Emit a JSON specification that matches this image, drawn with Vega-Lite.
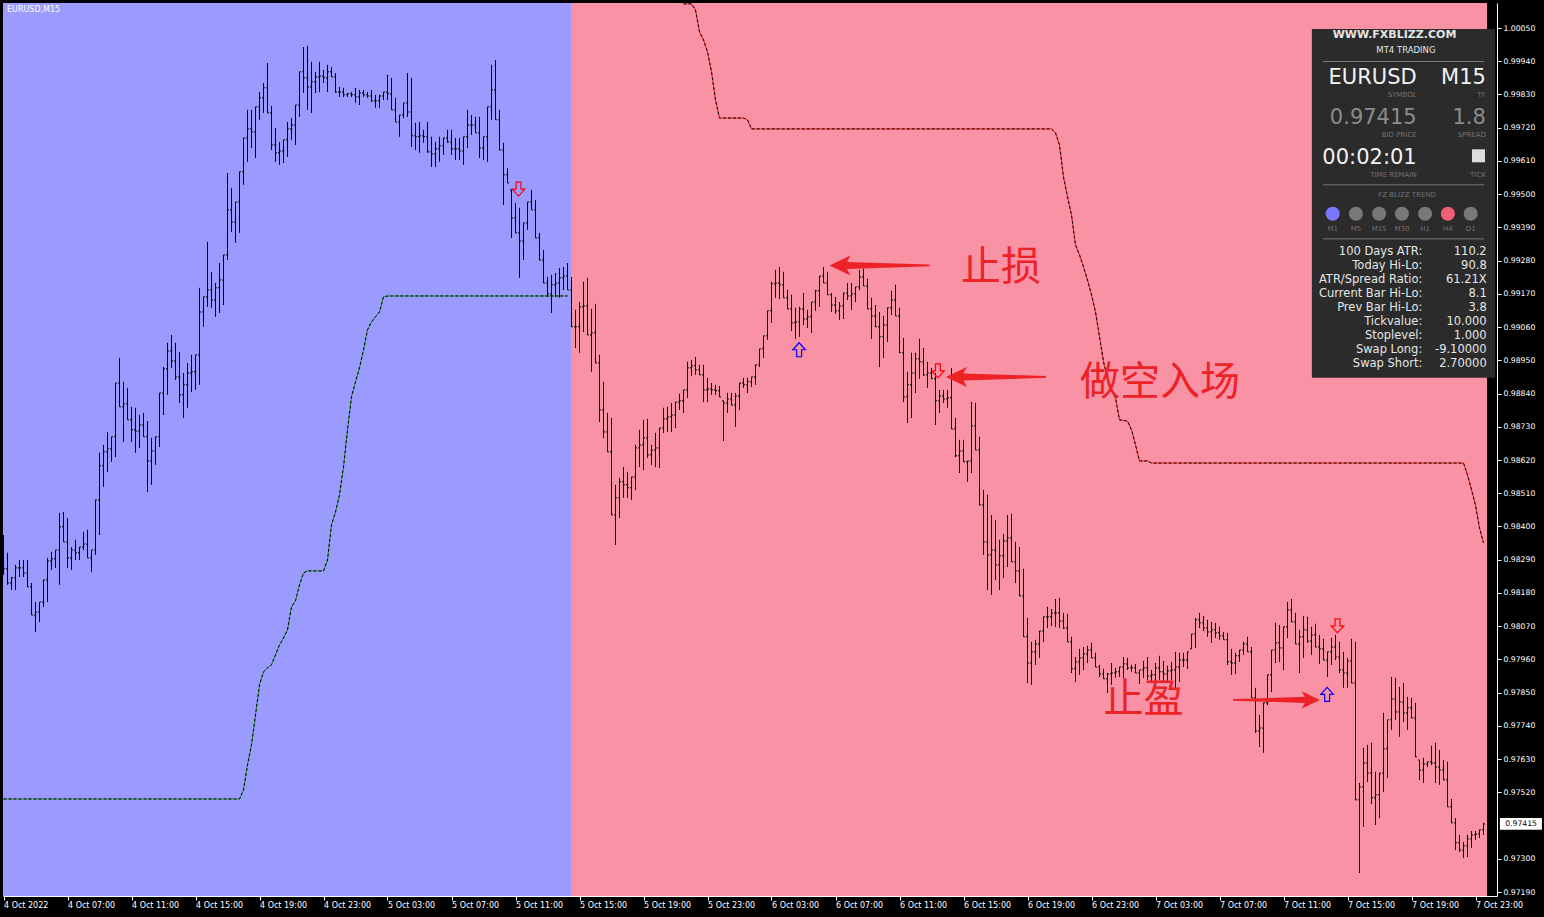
{
"$schema":"https://vega.github.io/schema/vega-lite/v6.json",
"width":1494,"height":893,
"autosize":{"type":"none"},
"padding":{"left":3,"top":3,"right":47,"bottom":21},
"background":"#000000",
"config":{"view":{"stroke":null},"text":{"font":"DejaVu Sans"},"axis":{"grid":false,"domainColor":"#ffffff","tickColor":"#ffffff","labelColor":"#ffffff","labelOverlap":false,"labelFlush":false,"labelBound":false}},
"resolve":{"scale":{"color":"independent","shape":"independent"}},
"datasets":{
"bars":[
{"i":0,"o":0.98306,"h":0.98372,"l":0.98240,"c":0.98260},
{"i":1,"o":0.98260,"h":0.98313,"l":0.98207,"c":0.98213},
{"i":2,"o":0.98213,"h":0.98233,"l":0.98190,"c":0.98230},
{"i":3,"o":0.98230,"h":0.98273,"l":0.98190,"c":0.98263},
{"i":4,"o":0.98263,"h":0.98289,"l":0.98233,"c":0.98263},
{"i":5,"o":0.98263,"h":0.98289,"l":0.98233,"c":0.98246},
{"i":6,"o":0.98246,"h":0.98289,"l":0.98200,"c":0.98200},
{"i":7,"o":0.98200,"h":0.98213,"l":0.98107,"c":0.98107},
{"i":8,"o":0.98107,"h":0.98150,"l":0.98051,"c":0.98117},
{"i":9,"o":0.98117,"h":0.98150,"l":0.98084,"c":0.98150},
{"i":10,"o":0.98150,"h":0.98223,"l":0.98134,"c":0.98223},
{"i":11,"o":0.98223,"h":0.98296,"l":0.98150,"c":0.98286},
{"i":12,"o":0.98286,"h":0.98316,"l":0.98256,"c":0.98293},
{"i":13,"o":0.98293,"h":0.98322,"l":0.98263,"c":0.98322},
{"i":14,"o":0.98322,"h":0.98445,"l":0.98207,"c":0.98399},
{"i":15,"o":0.98399,"h":0.98448,"l":0.98349,"c":0.98349},
{"i":16,"o":0.98349,"h":0.98428,"l":0.98263,"c":0.98296},
{"i":17,"o":0.98296,"h":0.98332,"l":0.98256,"c":0.98322},
{"i":18,"o":0.98322,"h":0.98356,"l":0.98289,"c":0.98313},
{"i":19,"o":0.98313,"h":0.98332,"l":0.98289,"c":0.98332},
{"i":20,"o":0.98332,"h":0.98382,"l":0.98322,"c":0.98342},
{"i":21,"o":0.98342,"h":0.98389,"l":0.98296,"c":0.98296},
{"i":22,"o":0.98296,"h":0.98322,"l":0.98250,"c":0.98322},
{"i":23,"o":0.98322,"h":0.98488,"l":0.98306,"c":0.98488},
{"i":24,"o":0.98488,"h":0.98644,"l":0.98372,"c":0.98601},
{"i":25,"o":0.98601,"h":0.98670,"l":0.98531,"c":0.98647},
{"i":26,"o":0.98647,"h":0.98713,"l":0.98581,"c":0.98657},
{"i":27,"o":0.98657,"h":0.98697,"l":0.98614,"c":0.98697},
{"i":28,"o":0.98697,"h":0.98875,"l":0.98630,"c":0.98875},
{"i":29,"o":0.98875,"h":0.98958,"l":0.98796,"c":0.98796},
{"i":30,"o":0.98796,"h":0.98879,"l":0.98680,"c":0.98806},
{"i":31,"o":0.98806,"h":0.98859,"l":0.98753,"c":0.98753},
{"i":32,"o":0.98753,"h":0.98796,"l":0.98680,"c":0.98720},
{"i":33,"o":0.98720,"h":0.98793,"l":0.98644,"c":0.98716},
{"i":34,"o":0.98716,"h":0.98769,"l":0.98660,"c":0.98736},
{"i":35,"o":0.98736,"h":0.98776,"l":0.98697,"c":0.98697},
{"i":36,"o":0.98697,"h":0.98749,"l":0.98514,"c":0.98617},
{"i":37,"o":0.98617,"h":0.98693,"l":0.98538,"c":0.98650},
{"i":38,"o":0.98650,"h":0.98697,"l":0.98604,"c":0.98697},
{"i":39,"o":0.98697,"h":0.98842,"l":0.98663,"c":0.98842},
{"i":40,"o":0.98842,"h":0.98928,"l":0.98769,"c":0.98922},
{"i":41,"o":0.98922,"h":0.99008,"l":0.98836,"c":0.98981},
{"i":42,"o":0.98981,"h":0.99034,"l":0.98925,"c":0.98948},
{"i":43,"o":0.98948,"h":0.99008,"l":0.98885,"c":0.98895},
{"i":44,"o":0.98895,"h":0.98978,"l":0.98809,"c":0.98836},
{"i":45,"o":0.98836,"h":0.98908,"l":0.98759,"c":0.98869},
{"i":46,"o":0.98869,"h":0.98941,"l":0.98793,"c":0.98908},
{"i":47,"o":0.98908,"h":0.98968,"l":0.98845,"c":0.98912},
{"i":48,"o":0.98912,"h":0.98968,"l":0.98852,"c":0.98968},
{"i":49,"o":0.98968,"h":0.99190,"l":0.98869,"c":0.99110},
{"i":50,"o":0.99110,"h":0.99160,"l":0.99061,"c":0.99160},
{"i":51,"o":0.99160,"h":0.99342,"l":0.99127,"c":0.99183},
{"i":52,"o":0.99183,"h":0.99243,"l":0.99124,"c":0.99150},
{"i":53,"o":0.99150,"h":0.99206,"l":0.99094,"c":0.99190},
{"i":54,"o":0.99190,"h":0.99272,"l":0.99107,"c":0.99216},
{"i":55,"o":0.99216,"h":0.99299,"l":0.99133,"c":0.99299},
{"i":56,"o":0.99299,"h":0.99570,"l":0.99282,"c":0.99448},
{"i":57,"o":0.99448,"h":0.99521,"l":0.99375,"c":0.99408},
{"i":58,"o":0.99408,"h":0.99474,"l":0.99339,"c":0.99474},
{"i":59,"o":0.99474,"h":0.99574,"l":0.99372,"c":0.99574},
{"i":60,"o":0.99574,"h":0.99686,"l":0.99531,"c":0.99686},
{"i":61,"o":0.99686,"h":0.99779,"l":0.99607,"c":0.99716},
{"i":62,"o":0.99716,"h":0.99779,"l":0.99653,"c":0.99706},
{"i":63,"o":0.99706,"h":0.99789,"l":0.99620,"c":0.99789},
{"i":64,"o":0.99789,"h":0.99838,"l":0.99746,"c":0.99819},
{"i":65,"o":0.99819,"h":0.99868,"l":0.99769,"c":0.99852},
{"i":66,"o":0.99852,"h":0.99934,"l":0.99769,"c":0.99769},
{"i":67,"o":0.99769,"h":0.99792,"l":0.99646,"c":0.99663},
{"i":68,"o":0.99663,"h":0.99719,"l":0.99607,"c":0.99637},
{"i":69,"o":0.99637,"h":0.99673,"l":0.99597,"c":0.99643},
{"i":70,"o":0.99643,"h":0.99680,"l":0.99603,"c":0.99680},
{"i":71,"o":0.99680,"h":0.99739,"l":0.99623,"c":0.99716},
{"i":72,"o":0.99716,"h":0.99752,"l":0.99680,"c":0.99729},
{"i":73,"o":0.99729,"h":0.99795,"l":0.99663,"c":0.99795},
{"i":74,"o":0.99795,"h":0.99905,"l":0.99756,"c":0.99905},
{"i":75,"o":0.99905,"h":0.99987,"l":0.99835,"c":0.99885},
{"i":76,"o":0.99885,"h":0.99991,"l":0.99779,"c":0.99855},
{"i":77,"o":0.99855,"h":0.99938,"l":0.99769,"c":0.99872},
{"i":78,"o":0.99872,"h":0.99905,"l":0.99835,"c":0.99888},
{"i":79,"o":0.99888,"h":0.99938,"l":0.99838,"c":0.99891},
{"i":80,"o":0.99891,"h":0.99911,"l":0.99868,"c":0.99885},
{"i":81,"o":0.99885,"h":0.99928,"l":0.99838,"c":0.99905},
{"i":82,"o":0.99905,"h":0.99921,"l":0.99888,"c":0.99888},
{"i":83,"o":0.99888,"h":0.99901,"l":0.99835,"c":0.99838},
{"i":84,"o":0.99838,"h":0.99855,"l":0.99822,"c":0.99838},
{"i":85,"o":0.99838,"h":0.99852,"l":0.99822,"c":0.99829},
{"i":86,"o":0.99829,"h":0.99835,"l":0.99822,"c":0.99832},
{"i":87,"o":0.99832,"h":0.99838,"l":0.99822,"c":0.99829},
{"i":88,"o":0.99829,"h":0.99852,"l":0.99802,"c":0.99822},
{"i":89,"o":0.99822,"h":0.99845,"l":0.99795,"c":0.99835},
{"i":90,"o":0.99835,"h":0.99845,"l":0.99822,"c":0.99829},
{"i":91,"o":0.99829,"h":0.99838,"l":0.99819,"c":0.99825},
{"i":92,"o":0.99825,"h":0.99845,"l":0.99805,"c":0.99809},
{"i":93,"o":0.99809,"h":0.99829,"l":0.99786,"c":0.99809},
{"i":94,"o":0.99809,"h":0.99829,"l":0.99786,"c":0.99825},
{"i":95,"o":0.99825,"h":0.99838,"l":0.99812,"c":0.99838},
{"i":96,"o":0.99838,"h":0.99895,"l":0.99812,"c":0.99832},
{"i":97,"o":0.99832,"h":0.99885,"l":0.99779,"c":0.99779},
{"i":98,"o":0.99779,"h":0.99819,"l":0.99739,"c":0.99739},
{"i":99,"o":0.99739,"h":0.99762,"l":0.99690,"c":0.99762},
{"i":100,"o":0.99762,"h":0.99802,"l":0.99752,"c":0.99802},
{"i":101,"o":0.99802,"h":0.99901,"l":0.99756,"c":0.99772},
{"i":102,"o":0.99772,"h":0.99885,"l":0.99656,"c":0.99693},
{"i":103,"o":0.99693,"h":0.99736,"l":0.99646,"c":0.99690},
{"i":104,"o":0.99690,"h":0.99739,"l":0.99637,"c":0.99693},
{"i":105,"o":0.99693,"h":0.99713,"l":0.99670,"c":0.99690},
{"i":106,"o":0.99690,"h":0.99739,"l":0.99637,"c":0.99640},
{"i":107,"o":0.99640,"h":0.99690,"l":0.99590,"c":0.99633},
{"i":108,"o":0.99633,"h":0.99673,"l":0.99590,"c":0.99650},
{"i":109,"o":0.99650,"h":0.99690,"l":0.99607,"c":0.99660},
{"i":110,"o":0.99660,"h":0.99686,"l":0.99630,"c":0.99686},
{"i":111,"o":0.99686,"h":0.99713,"l":0.99670,"c":0.99673},
{"i":112,"o":0.99673,"h":0.99713,"l":0.99630,"c":0.99650},
{"i":113,"o":0.99650,"h":0.99686,"l":0.99613,"c":0.99650},
{"i":114,"o":0.99650,"h":0.99686,"l":0.99613,"c":0.99643},
{"i":115,"o":0.99643,"h":0.99690,"l":0.99597,"c":0.99690},
{"i":116,"o":0.99690,"h":0.99779,"l":0.99653,"c":0.99729},
{"i":117,"o":0.99729,"h":0.99762,"l":0.99696,"c":0.99729},
{"i":118,"o":0.99729,"h":0.99756,"l":0.99703,"c":0.99703},
{"i":119,"o":0.99703,"h":0.99756,"l":0.99620,"c":0.99653},
{"i":120,"o":0.99653,"h":0.99690,"l":0.99613,"c":0.99690},
{"i":121,"o":0.99690,"h":0.99789,"l":0.99607,"c":0.99789},
{"i":122,"o":0.99789,"h":0.99928,"l":0.99746,"c":0.99845},
{"i":123,"o":0.99845,"h":0.99944,"l":0.99746,"c":0.99746},
{"i":124,"o":0.99746,"h":0.99779,"l":0.99646,"c":0.99646},
{"i":125,"o":0.99646,"h":0.99670,"l":0.99464,"c":0.99564},
{"i":126,"o":0.99564,"h":0.99587,"l":0.99537,"c":0.99537},
{"i":127,"o":0.99514,"h":0.99514,"l":0.99355,"c":0.99421},
{"i":128,"o":0.99421,"h":0.99471,"l":0.99372,"c":0.99372},
{"i":129,"o":0.99372,"h":0.99455,"l":0.99223,"c":0.99345},
{"i":130,"o":0.99345,"h":0.99405,"l":0.99282,"c":0.99405},
{"i":131,"o":0.99405,"h":0.99474,"l":0.99382,"c":0.99474},
{"i":132,"o":0.99474,"h":0.99514,"l":0.99448,"c":0.99448},
{"i":133,"o":0.99448,"h":0.99481,"l":0.99355,"c":0.99355},
{"i":134,"o":0.99355,"h":0.99372,"l":0.99282,"c":0.99282},
{"i":135,"o":0.99282,"h":0.99315,"l":0.99206,"c":0.99206},
{"i":136,"o":0.99206,"h":0.99226,"l":0.99160,"c":0.99170},
{"i":137,"o":0.99170,"h":0.99233,"l":0.99107,"c":0.99200},
{"i":138,"o":0.99200,"h":0.99239,"l":0.99160,"c":0.99206},
{"i":139,"o":0.99206,"h":0.99256,"l":0.99157,"c":0.99223},
{"i":140,"o":0.99223,"h":0.99259,"l":0.99183,"c":0.99229},
{"i":141,"o":0.99229,"h":0.99272,"l":0.99183,"c":0.99183},
{"i":142,"o":0.99183,"h":0.99226,"l":0.99061,"c":0.99061},
{"i":143,"o":0.99061,"h":0.99117,"l":0.98991,"c":0.99061},
{"i":144,"o":0.99061,"h":0.99143,"l":0.98975,"c":0.99127},
{"i":145,"o":0.99127,"h":0.99210,"l":0.99044,"c":0.99130},
{"i":146,"o":0.99130,"h":0.99223,"l":0.99034,"c":0.99034},
{"i":147,"o":0.99034,"h":0.99120,"l":0.98912,"c":0.99041},
{"i":148,"o":0.99041,"h":0.99137,"l":0.98941,"c":0.98941},
{"i":149,"o":0.98941,"h":0.98968,"l":0.98746,"c":0.98786},
{"i":150,"o":0.98786,"h":0.98879,"l":0.98693,"c":0.98713},
{"i":151,"o":0.98713,"h":0.98776,"l":0.98647,"c":0.98647},
{"i":152,"o":0.98647,"h":0.98759,"l":0.98438,"c":0.98438},
{"i":153,"o":0.98438,"h":0.98538,"l":0.98339,"c":0.98495},
{"i":154,"o":0.98495,"h":0.98561,"l":0.98428,"c":0.98548},
{"i":155,"o":0.98548,"h":0.98597,"l":0.98495,"c":0.98538},
{"i":156,"o":0.98538,"h":0.98581,"l":0.98495,"c":0.98528},
{"i":157,"o":0.98528,"h":0.98564,"l":0.98488,"c":0.98564},
{"i":158,"o":0.98564,"h":0.98670,"l":0.98521,"c":0.98660},
{"i":159,"o":0.98660,"h":0.98720,"l":0.98597,"c":0.98670},
{"i":160,"o":0.98670,"h":0.98753,"l":0.98587,"c":0.98693},
{"i":161,"o":0.98693,"h":0.98756,"l":0.98627,"c":0.98637},
{"i":162,"o":0.98637,"h":0.98670,"l":0.98604,"c":0.98653},
{"i":163,"o":0.98653,"h":0.98710,"l":0.98597,"c":0.98660},
{"i":164,"o":0.98660,"h":0.98726,"l":0.98594,"c":0.98726},
{"i":165,"o":0.98726,"h":0.98793,"l":0.98710,"c":0.98756},
{"i":166,"o":0.98756,"h":0.98796,"l":0.98713,"c":0.98763},
{"i":167,"o":0.98763,"h":0.98809,"l":0.98713,"c":0.98769},
{"i":168,"o":0.98769,"h":0.98812,"l":0.98726,"c":0.98812},
{"i":169,"o":0.98812,"h":0.98839,"l":0.98786,"c":0.98816},
{"i":170,"o":0.98816,"h":0.98852,"l":0.98776,"c":0.98852},
{"i":171,"o":0.98852,"h":0.98945,"l":0.98826,"c":0.98925},
{"i":172,"o":0.98925,"h":0.98951,"l":0.98898,"c":0.98932},
{"i":173,"o":0.98932,"h":0.98961,"l":0.98902,"c":0.98918},
{"i":174,"o":0.98918,"h":0.98935,"l":0.98902,"c":0.98902},
{"i":175,"o":0.98902,"h":0.98935,"l":0.98812,"c":0.98852},
{"i":176,"o":0.98852,"h":0.98892,"l":0.98812,"c":0.98855},
{"i":177,"o":0.98855,"h":0.98875,"l":0.98836,"c":0.98852},
{"i":178,"o":0.98852,"h":0.98869,"l":0.98836,"c":0.98849},
{"i":179,"o":0.98849,"h":0.98865,"l":0.98829,"c":0.98829},
{"i":180,"o":0.98816,"h":0.98816,"l":0.98683,"c":0.98809},
{"i":181,"o":0.98809,"h":0.98842,"l":0.98776,"c":0.98822},
{"i":182,"o":0.98822,"h":0.98842,"l":0.98802,"c":0.98802},
{"i":183,"o":0.98802,"h":0.98842,"l":0.98730,"c":0.98832},
{"i":184,"o":0.98832,"h":0.98875,"l":0.98786,"c":0.98875},
{"i":185,"o":0.98875,"h":0.98892,"l":0.98859,"c":0.98869},
{"i":186,"o":0.98869,"h":0.98892,"l":0.98842,"c":0.98879},
{"i":187,"o":0.98879,"h":0.98895,"l":0.98862,"c":0.98895},
{"i":188,"o":0.98895,"h":0.98935,"l":0.98869,"c":0.98935},
{"i":189,"o":0.98935,"h":0.98988,"l":0.98928,"c":0.98988},
{"i":190,"o":0.98988,"h":0.99031,"l":0.98958,"c":0.99031},
{"i":191,"o":0.99031,"h":0.99114,"l":0.99018,"c":0.99114},
{"i":192,"o":0.99114,"h":0.99210,"l":0.99074,"c":0.99203},
{"i":193,"o":0.99203,"h":0.99249,"l":0.99157,"c":0.99206},
{"i":194,"o":0.99206,"h":0.99259,"l":0.99153,"c":0.99200},
{"i":195,"o":0.99200,"h":0.99243,"l":0.99157,"c":0.99157},
{"i":196,"o":0.99157,"h":0.99183,"l":0.99120,"c":0.99120},
{"i":197,"o":0.99120,"h":0.99167,"l":0.99047,"c":0.99074},
{"i":198,"o":0.99074,"h":0.99124,"l":0.99021,"c":0.99077},
{"i":199,"o":0.99077,"h":0.99127,"l":0.99028,"c":0.99120},
{"i":200,"o":0.99120,"h":0.99173,"l":0.99067,"c":0.99087},
{"i":201,"o":0.99087,"h":0.99117,"l":0.99057,"c":0.99094},
{"i":202,"o":0.99094,"h":0.99143,"l":0.99041,"c":0.99143},
{"i":203,"o":0.99143,"h":0.99183,"l":0.99114,"c":0.99180},
{"i":204,"o":0.99180,"h":0.99229,"l":0.99127,"c":0.99229},
{"i":205,"o":0.99229,"h":0.99259,"l":0.99206,"c":0.99206},
{"i":206,"o":0.99206,"h":0.99243,"l":0.99167,"c":0.99167},
{"i":207,"o":0.99167,"h":0.99173,"l":0.99110,"c":0.99133},
{"i":208,"o":0.99133,"h":0.99160,"l":0.99104,"c":0.99114},
{"i":209,"o":0.99114,"h":0.99143,"l":0.99084,"c":0.99130},
{"i":210,"o":0.99130,"h":0.99173,"l":0.99087,"c":0.99173},
{"i":211,"o":0.99173,"h":0.99206,"l":0.99150,"c":0.99163},
{"i":212,"o":0.99163,"h":0.99206,"l":0.99117,"c":0.99170},
{"i":213,"o":0.99170,"h":0.99193,"l":0.99143,"c":0.99193},
{"i":214,"o":0.99193,"h":0.99249,"l":0.99183,"c":0.99226},
{"i":215,"o":0.99226,"h":0.99253,"l":0.99196,"c":0.99196},
{"i":216,"o":0.99196,"h":0.99220,"l":0.99120,"c":0.99120},
{"i":217,"o":0.99120,"h":0.99157,"l":0.99021,"c":0.99097},
{"i":218,"o":0.99097,"h":0.99133,"l":0.99061,"c":0.99061},
{"i":219,"o":0.99061,"h":0.99110,"l":0.98928,"c":0.99028},
{"i":220,"o":0.99028,"h":0.99097,"l":0.98958,"c":0.99067},
{"i":221,"o":0.99067,"h":0.99124,"l":0.99011,"c":0.99124},
{"i":222,"o":0.99124,"h":0.99180,"l":0.99100,"c":0.99150},
{"i":223,"o":0.99150,"h":0.99200,"l":0.99097,"c":0.99097},
{"i":224,"o":0.99097,"h":0.99124,"l":0.98975,"c":0.98975},
{"i":225,"o":0.98975,"h":0.99024,"l":0.98812,"c":0.98829},
{"i":226,"o":0.98829,"h":0.98912,"l":0.98743,"c":0.98869},
{"i":227,"o":0.98869,"h":0.98975,"l":0.98759,"c":0.98908},
{"i":228,"o":0.98908,"h":0.98975,"l":0.98842,"c":0.98955},
{"i":229,"o":0.98955,"h":0.99021,"l":0.98889,"c":0.98945},
{"i":230,"o":0.98945,"h":0.98991,"l":0.98898,"c":0.98902},
{"i":231,"o":0.98902,"h":0.98945,"l":0.98859,"c":0.98908},
{"i":232,"o":0.98908,"h":0.98925,"l":0.98889,"c":0.98889},
{"i":233,"o":0.98889,"h":0.98908,"l":0.98736,"c":0.98816},
{"i":234,"o":0.98816,"h":0.98852,"l":0.98776,"c":0.98832},
{"i":235,"o":0.98832,"h":0.98852,"l":0.98809,"c":0.98822},
{"i":236,"o":0.98822,"h":0.98852,"l":0.98793,"c":0.98826},
{"i":237,"o":0.98826,"h":0.98925,"l":0.98723,"c":0.98723},
{"i":238,"o":0.98723,"h":0.98759,"l":0.98630,"c":0.98634},
{"i":239,"o":0.98634,"h":0.98687,"l":0.98577,"c":0.98650},
{"i":240,"o":0.98650,"h":0.98687,"l":0.98614,"c":0.98614},
{"i":241,"o":0.98614,"h":0.98617,"l":0.98548,"c":0.98617},
{"i":242,"o":0.98617,"h":0.98812,"l":0.98577,"c":0.98733},
{"i":243,"o":0.98733,"h":0.98809,"l":0.98653,"c":0.98653},
{"i":244,"o":0.98653,"h":0.98697,"l":0.98471,"c":0.98471},
{"i":245,"o":0.98471,"h":0.98521,"l":0.98306,"c":0.98349},
{"i":246,"o":0.98349,"h":0.98505,"l":0.98190,"c":0.98306},
{"i":247,"o":0.98306,"h":0.98438,"l":0.98174,"c":0.98322},
{"i":248,"o":0.98322,"h":0.98422,"l":0.98223,"c":0.98273},
{"i":249,"o":0.98273,"h":0.98356,"l":0.98190,"c":0.98303},
{"i":250,"o":0.98303,"h":0.98375,"l":0.98230,"c":0.98352},
{"i":251,"o":0.98352,"h":0.98438,"l":0.98266,"c":0.98362},
{"i":252,"o":0.98362,"h":0.98442,"l":0.98283,"c":0.98283},
{"i":253,"o":0.98283,"h":0.98349,"l":0.98213,"c":0.98253},
{"i":254,"o":0.98253,"h":0.98332,"l":0.98170,"c":0.98170},
{"i":255,"o":0.98170,"h":0.98260,"l":0.98035,"c":0.98035},
{"i":256,"o":0.98035,"h":0.98097,"l":0.97882,"c":0.97948},
{"i":257,"o":0.97948,"h":0.98018,"l":0.97876,"c":0.97985},
{"i":258,"o":0.97985,"h":0.98025,"l":0.97942,"c":0.98011},
{"i":259,"o":0.98011,"h":0.98054,"l":0.97965,"c":0.98054},
{"i":260,"o":0.98054,"h":0.98101,"l":0.98018,"c":0.98101},
{"i":261,"o":0.98101,"h":0.98134,"l":0.98064,"c":0.98101},
{"i":262,"o":0.98101,"h":0.98127,"l":0.98071,"c":0.98114},
{"i":263,"o":0.98114,"h":0.98160,"l":0.98068,"c":0.98114},
{"i":264,"o":0.98114,"h":0.98164,"l":0.98064,"c":0.98087},
{"i":265,"o":0.98087,"h":0.98114,"l":0.98061,"c":0.98064},
{"i":266,"o":0.98064,"h":0.98111,"l":0.98018,"c":0.98018},
{"i":267,"o":0.98018,"h":0.98035,"l":0.97915,"c":0.97929},
{"i":268,"o":0.97929,"h":0.97968,"l":0.97886,"c":0.97952},
{"i":269,"o":0.97952,"h":0.97995,"l":0.97909,"c":0.97965},
{"i":270,"o":0.97965,"h":0.98001,"l":0.97925,"c":0.97978},
{"i":271,"o":0.97978,"h":0.98005,"l":0.97948,"c":0.97991},
{"i":272,"o":0.97991,"h":0.98015,"l":0.97965,"c":0.97965},
{"i":273,"o":0.97965,"h":0.97982,"l":0.97935,"c":0.97935},
{"i":274,"o":0.97935,"h":0.97942,"l":0.97902,"c":0.97912},
{"i":275,"o":0.97912,"h":0.97929,"l":0.97896,"c":0.97896},
{"i":276,"o":0.97896,"h":0.97915,"l":0.97849,"c":0.97912},
{"i":277,"o":0.97912,"h":0.97948,"l":0.97876,"c":0.97915},
{"i":278,"o":0.97915,"h":0.97932,"l":0.97899,"c":0.97919},
{"i":279,"o":0.97919,"h":0.97935,"l":0.97902,"c":0.97935},
{"i":280,"o":0.97935,"h":0.97968,"l":0.97899,"c":0.97945},
{"i":281,"o":0.97945,"h":0.97965,"l":0.97925,"c":0.97932},
{"i":282,"o":0.97932,"h":0.97942,"l":0.97919,"c":0.97932},
{"i":283,"o":0.97932,"h":0.97945,"l":0.97915,"c":0.97915},
{"i":284,"o":0.97915,"h":0.97925,"l":0.97879,"c":0.97925},
{"i":285,"o":0.97925,"h":0.97955,"l":0.97899,"c":0.97932},
{"i":286,"o":0.97932,"h":0.97968,"l":0.97892,"c":0.97905},
{"i":287,"o":0.97905,"h":0.97925,"l":0.97882,"c":0.97909},
{"i":288,"o":0.97909,"h":0.97948,"l":0.97866,"c":0.97932},
{"i":289,"o":0.97932,"h":0.97972,"l":0.97892,"c":0.97919},
{"i":290,"o":0.97919,"h":0.97955,"l":0.97882,"c":0.97912},
{"i":291,"o":0.97912,"h":0.97939,"l":0.97886,"c":0.97922},
{"i":292,"o":0.97922,"h":0.97952,"l":0.97892,"c":0.97925},
{"i":293,"o":0.97925,"h":0.97985,"l":0.97866,"c":0.97935},
{"i":294,"o":0.97935,"h":0.97982,"l":0.97886,"c":0.97958},
{"i":295,"o":0.97958,"h":0.97982,"l":0.97935,"c":0.97958},
{"i":296,"o":0.97958,"h":0.97985,"l":0.97929,"c":0.97985},
{"i":297,"o":0.97995,"h":0.98044,"l":0.97995,"c":0.98044},
{"i":298,"o":0.98044,"h":0.98097,"l":0.97998,"c":0.98091},
{"i":299,"o":0.98091,"h":0.98114,"l":0.98064,"c":0.98081},
{"i":300,"o":0.98081,"h":0.98104,"l":0.98054,"c":0.98064},
{"i":301,"o":0.98064,"h":0.98091,"l":0.98035,"c":0.98051},
{"i":302,"o":0.98051,"h":0.98084,"l":0.98015,"c":0.98058},
{"i":303,"o":0.98058,"h":0.98081,"l":0.98031,"c":0.98048},
{"i":304,"o":0.98048,"h":0.98068,"l":0.98025,"c":0.98038},
{"i":305,"o":0.98038,"h":0.98051,"l":0.98025,"c":0.98025},
{"i":306,"o":0.98025,"h":0.98048,"l":0.97942,"c":0.97952},
{"i":307,"o":0.97952,"h":0.97995,"l":0.97909,"c":0.97948},
{"i":308,"o":0.97948,"h":0.97982,"l":0.97912,"c":0.97972},
{"i":309,"o":0.97972,"h":0.97991,"l":0.97952,"c":0.97991},
{"i":310,"o":0.97991,"h":0.98018,"l":0.97975,"c":0.98011},
{"i":311,"o":0.98011,"h":0.98035,"l":0.97985,"c":0.97985},
{"i":312,"o":0.97985,"h":0.98001,"l":0.97833,"c":0.97833},
{"i":313,"o":0.97833,"h":0.97866,"l":0.97717,"c":0.97723},
{"i":314,"o":0.97723,"h":0.97776,"l":0.97670,"c":0.97733},
{"i":315,"o":0.97733,"h":0.97816,"l":0.97651,"c":0.97816},
{"i":316,"o":0.97816,"h":0.97909,"l":0.97809,"c":0.97909},
{"i":317,"o":0.97909,"h":0.97991,"l":0.97852,"c":0.97991},
{"i":318,"o":0.97991,"h":0.98081,"l":0.97948,"c":0.98015},
{"i":319,"o":0.98015,"h":0.98074,"l":0.97952,"c":0.97998},
{"i":320,"o":0.97998,"h":0.98068,"l":0.97925,"c":0.98068},
{"i":321,"o":0.98068,"h":0.98150,"l":0.98031,"c":0.98124},
{"i":322,"o":0.98124,"h":0.98160,"l":0.98084,"c":0.98084},
{"i":323,"o":0.98084,"h":0.98114,"l":0.98011,"c":0.98011},
{"i":324,"o":0.98011,"h":0.98058,"l":0.97915,"c":0.98035},
{"i":325,"o":0.98035,"h":0.98104,"l":0.97965,"c":0.98058},
{"i":326,"o":0.98058,"h":0.98101,"l":0.98015,"c":0.98021},
{"i":327,"o":0.98021,"h":0.98068,"l":0.97975,"c":0.98041},
{"i":328,"o":0.98041,"h":0.98078,"l":0.98001,"c":0.98001},
{"i":329,"o":0.98001,"h":0.98041,"l":0.97945,"c":0.97995},
{"i":330,"o":0.97995,"h":0.98028,"l":0.97958,"c":0.97958},
{"i":331,"o":0.97958,"h":0.97985,"l":0.97902,"c":0.97985},
{"i":332,"o":0.97985,"h":0.98031,"l":0.97942,"c":0.98001},
{"i":333,"o":0.98001,"h":0.98041,"l":0.97958,"c":0.97968},
{"i":334,"o":0.97968,"h":0.98018,"l":0.97915,"c":0.97925},
{"i":335,"o":0.97925,"h":0.97985,"l":0.97866,"c":0.97915},
{"i":336,"o":0.97915,"h":0.97965,"l":0.97866,"c":0.97955},
{"i":337,"o":0.97955,"h":0.98028,"l":0.97882,"c":0.97882},
{"i":338,"o":0.97882,"h":0.98018,"l":0.97495,"c":0.97495},
{"i":339,"o":0.97495,"h":0.97551,"l":0.97253,"c":0.97538},
{"i":340,"o":0.97538,"h":0.97667,"l":0.97406,"c":0.97617},
{"i":341,"o":0.97617,"h":0.97677,"l":0.97555,"c":0.97584},
{"i":342,"o":0.97584,"h":0.97684,"l":0.97482,"c":0.97502},
{"i":343,"o":0.97502,"h":0.97588,"l":0.97412,"c":0.97512},
{"i":344,"o":0.97512,"h":0.97584,"l":0.97435,"c":0.97584},
{"i":345,"o":0.97584,"h":0.97783,"l":0.97521,"c":0.97664},
{"i":346,"o":0.97664,"h":0.97760,"l":0.97568,"c":0.97760},
{"i":347,"o":0.97760,"h":0.97902,"l":0.97727,"c":0.97829},
{"i":348,"o":0.97829,"h":0.97899,"l":0.97760,"c":0.97786},
{"i":349,"o":0.97786,"h":0.97869,"l":0.97704,"c":0.97819},
{"i":350,"o":0.97819,"h":0.97882,"l":0.97753,"c":0.97783},
{"i":351,"o":0.97783,"h":0.97836,"l":0.97727,"c":0.97800},
{"i":352,"o":0.97800,"h":0.97833,"l":0.97766,"c":0.97766},
{"i":353,"o":0.97766,"h":0.97816,"l":0.97637,"c":0.97637},
{"i":354,"o":0.97627,"h":0.97627,"l":0.97561,"c":0.97594},
{"i":355,"o":0.97594,"h":0.97634,"l":0.97551,"c":0.97614},
{"i":356,"o":0.97614,"h":0.97621,"l":0.97604,"c":0.97621},
{"i":357,"o":0.97621,"h":0.97674,"l":0.97611,"c":0.97617},
{"i":358,"o":0.97617,"h":0.97684,"l":0.97551,"c":0.97604},
{"i":359,"o":0.97604,"h":0.97660,"l":0.97545,"c":0.97594},
{"i":360,"o":0.97594,"h":0.97627,"l":0.97561,"c":0.97561},
{"i":361,"o":0.97561,"h":0.97621,"l":0.97472,"c":0.97472},
{"i":362,"o":0.97472,"h":0.97498,"l":0.97419,"c":0.97419},
{"i":363,"o":0.97419,"h":0.97435,"l":0.97329,"c":0.97353},
{"i":364,"o":0.97353,"h":0.97379,"l":0.97323,"c":0.97329},
{"i":365,"o":0.97329,"h":0.97356,"l":0.97303,"c":0.97343},
{"i":366,"o":0.97343,"h":0.97379,"l":0.97306,"c":0.97366},
{"i":367,"o":0.97366,"h":0.97392,"l":0.97336,"c":0.97379},
{"i":368,"o":0.97379,"h":0.97392,"l":0.97363,"c":0.97382},
{"i":369,"o":0.97382,"h":0.97396,"l":0.97369,"c":0.97396},
{"i":370,"o":0.97396,"h":0.97419,"l":0.97379,"c":0.97415}
],
"stops":[
{"i":0,"p":0.97498,"s":"b"},{"i":59,"p":0.97498,"s":"b"},{"i":60,"p":0.97528,"s":"b"},{"i":61,"p":0.97611,"s":"b"},{"i":62,"p":0.97677,"s":"b"},{"i":63,"p":0.97776,"s":"b"},{"i":64,"p":0.97876,"s":"b"},{"i":65,"p":0.97919,"s":"b"},{"i":66,"p":0.97932,"s":"b"},{"i":67,"p":0.97942,"s":"b"},{"i":68,"p":0.97975,"s":"b"},{"i":69,"p":0.98008,"s":"b"},{"i":70,"p":0.98031,"s":"b"},{"i":71,"p":0.98058,"s":"b"},{"i":72,"p":0.98134,"s":"b"},{"i":73,"p":0.98154,"s":"b"},{"i":74,"p":0.98207,"s":"b"},{"i":75,"p":0.98246,"s":"b"},{"i":76,"p":0.98253,"s":"b"},{"i":80,"p":0.98253,"s":"b"},{"i":81,"p":0.98289,"s":"b"},{"i":82,"p":0.98405,"s":"b"},{"i":83,"p":0.98448,"s":"b"},{"i":84,"p":0.98505,"s":"b"},{"i":85,"p":0.98597,"s":"b"},{"i":86,"p":0.98720,"s":"b"},{"i":87,"p":0.98829,"s":"b"},{"i":88,"p":0.98879,"s":"b"},{"i":89,"p":0.98925,"s":"b"},{"i":90,"p":0.98984,"s":"b"},{"i":91,"p":0.99051,"s":"b"},{"i":92,"p":0.99077,"s":"b"},{"i":93,"p":0.99094,"s":"b"},{"i":94,"p":0.99110,"s":"b"},{"i":95,"p":0.99160,"s":"b"},{"i":96,"p":0.99163,"s":"b"},{"i":141,"p":0.99163,"s":"b"},
{"i":170,"p":1.00130,"s":"s"},{"i":172,"p":1.00130,"s":"s"},{"i":173,"p":1.00110,"s":"s"},{"i":174,"p":1.00037,"s":"s"},{"i":175,"p":1.00011,"s":"s"},{"i":176,"p":0.99971,"s":"s"},{"i":177,"p":0.99905,"s":"s"},{"i":178,"p":0.99812,"s":"s"},{"i":179,"p":0.99752,"s":"s"},{"i":185,"p":0.99752,"s":"s"},{"i":186,"p":0.99746,"s":"s"},{"i":187,"p":0.99716,"s":"s"},{"i":262,"p":0.99716,"s":"s"},{"i":263,"p":0.99703,"s":"s"},{"i":264,"p":0.99663,"s":"s"},{"i":265,"p":0.99557,"s":"s"},{"i":266,"p":0.99491,"s":"s"},{"i":267,"p":0.99431,"s":"s"},{"i":268,"p":0.99332,"s":"s"},{"i":269,"p":0.99299,"s":"s"},{"i":270,"p":0.99259,"s":"s"},{"i":271,"p":0.99216,"s":"s"},{"i":272,"p":0.99167,"s":"s"},{"i":273,"p":0.99110,"s":"s"},{"i":274,"p":0.99028,"s":"s"},{"i":275,"p":0.98945,"s":"s"},{"i":276,"p":0.98892,"s":"s"},{"i":277,"p":0.98852,"s":"s"},{"i":278,"p":0.98826,"s":"s"},{"i":279,"p":0.98753,"s":"s"},{"i":281,"p":0.98749,"s":"s"},{"i":282,"p":0.98720,"s":"s"},{"i":283,"p":0.98670,"s":"s"},{"i":284,"p":0.98617,"s":"s"},{"i":286,"p":0.98617,"s":"s"},{"i":287,"p":0.98610,"s":"s"},{"i":365,"p":0.98610,"s":"s"},{"i":366,"p":0.98571,"s":"s"},{"i":367,"p":0.98521,"s":"s"},{"i":368,"p":0.98471,"s":"s"},{"i":369,"p":0.98395,"s":"s"},{"i":370,"p":0.98346,"s":"s"}
]
},
"layer":[
{"data":{"values":[{"a":-0.125,"b":141.875,"z":"buy"},{"a":141.875,"b":370.875,"z":"sell"}]},
 "mark":{"type":"rect"},
 "encoding":{
  "x":{"field":"a","type":"quantitative","scale":{"domain":[-0.125,373.375],"nice":false,"zero":false}},
  "x2":{"field":"b"},
  "color":{"field":"z","type":"nominal","scale":{"domain":["buy","sell"],"range":["#9b9bff","#f892a4"]},"legend":null}}},
{"data":{"name":"stops"},
 "mark":{"type":"line","strokeWidth":1,"opacity":1},
 "encoding":{
  "x":{"field":"i","type":"quantitative"},
  "y":{"field":"p","type":"quantitative"},
  "color":{"field":"s","type":"nominal","scale":{"domain":["b","s"],"range":["#2fa03c","#ff2a2a"]},"legend":null}}},
{"data":{"name":"stops"},
 "mark":{"type":"line","strokeWidth":1,"strokeDash":[3,2],"color":"#000000"},
 "encoding":{
  "x":{"field":"i","type":"quantitative"},
  "y":{"field":"p","type":"quantitative"},
  "detail":{"field":"s","type":"nominal"}}},
{"data":{"name":"bars"},
 "mark":{"type":"rule","color":"#000000","strokeWidth":1},
 "encoding":{
  "x":{"field":"i","type":"quantitative","scale":{"domain":[-0.125,373.375],"nice":false,"zero":false},
   "axis":{"orient":"bottom","title":null,"grid":false,"tickCount":100,"values":[0,16,32,48,64,80,96,112,128,144,160,176,192,208,224,240,256,272,288,304,320,336,352,368],
    "labelExpr":"['4 Oct 2022','4 Oct 07:00','4 Oct 11:00','4 Oct 15:00','4 Oct 19:00','4 Oct 23:00','5 Oct 03:00','5 Oct 07:00','5 Oct 11:00','5 Oct 15:00','5 Oct 19:00','5 Oct 23:00','6 Oct 03:00','6 Oct 07:00','6 Oct 11:00','6 Oct 15:00','6 Oct 19:00','6 Oct 23:00','7 Oct 03:00','7 Oct 07:00','7 Oct 11:00','7 Oct 15:00','7 Oct 19:00','7 Oct 23:00'][round(datum.value/16)]",
    "labelAlign":"left","labelBaseline":"top","labelColor":"#ffffff","labelFont":"DejaVu Sans","labelFontSize":8,"tickColor":"#ffffff","tickSize":4,"domainColor":"#ffffff","domainWidth":1,"labelPadding":1,"labelFlush":false,"labelOverlap":false,"labelBound":false}},
  "y":{"field":"h","type":"quantitative","scale":{"domain":[0.9717692,1.0013275],"nice":false,"zero":false},
   "axis":{"orient":"right","title":null,"grid":false,"tickCount":100,"values":[0.9719,0.973,0.9752,0.9763,0.9774,0.9785,0.9796,0.9807,0.9818,0.9829,0.984,0.9851,0.9862,0.9873,0.9884,0.9895,0.9906,0.9917,0.9928,0.9939,0.995,0.9961,0.9972,0.9983,0.9994,1.0005],
    "format":".5f","labelColor":"#ffffff","labelFont":"DejaVu Sans","labelFontSize":7.7,"tickColor":"#ffffff","tickSize":4,"domainColor":"#ffffff","domainWidth":1,"labelPadding":2,"labelFlush":false,"labelOverlap":false,"labelBound":false}},
  "y2":{"field":"l"}}},
{"data":{"name":"bars"},
 "mark":{"type":"rule","color":"#000000","strokeWidth":1,"xOffset":-1.5,"x2Offset":0},
 "encoding":{"x":{"field":"i","type":"quantitative"},"x2":{"field":"i"},"y":{"field":"o","type":"quantitative"}}},
{"data":{"name":"bars"},
 "mark":{"type":"rule","color":"#000000","strokeWidth":1,"xOffset":0,"x2Offset":1.5},
 "encoding":{"x":{"field":"i","type":"quantitative"},"x2":{"field":"i"},"y":{"field":"c","type":"quantitative"}}},
{"data":{"values":[{"i":128.75,"p":0.99517,"d":"down"},{"i":233.6,"p":0.98915,"d":"down"},{"i":333.5,"p":0.98071,"d":"down"},{"i":198.9,"p":0.98985,"d":"up"},{"i":330.9,"p":0.97844,"d":"up"}]},
 "mark":{"type":"point","filled":false,"size":196,"strokeWidth":1.2,"opacity":1},
 "encoding":{
  "x":{"field":"i","type":"quantitative"},
  "y":{"field":"p","type":"quantitative"},
  "shape":{"field":"d","type":"nominal","scale":{"domain":["down","up"],"range":["M-0.35,-1L0.35,-1L0.35,0L0.9,0L0,1L-0.9,0L-0.35,0Z","M0,-1L0.9,0L0.35,0L0.35,1L-0.35,1L-0.35,0L-0.9,0Z"]},"legend":null},
  "color":{"field":"d","type":"nominal","scale":{"domain":["down","up"],"range":["#ff0000","#0000ff"]},"legend":null}}},
{"data":{"values":[{"i":219,"p":0.99264},{"i":248.1,"p":0.98895}]},
 "mark":{"type":"point","filled":true,"size":10000,"opacity":1,"color":"#ec2227","strokeWidth":0,"shape":"M-1,0L-0.58,-0.2L-0.65,-0.07L1,-0.018L1,0.018L-0.65,0.07L-0.58,0.2Z"},
 "encoding":{"x":{"field":"i","type":"quantitative"},"y":{"field":"p","type":"quantitative"}}},
{"data":{"values":[{"i":318.25,"p":0.97826}]},
 "mark":{"type":"point","filled":true,"size":7569,"opacity":1,"angle":180,"color":"#ec2227","strokeWidth":0,"shape":"M-1,0L-0.58,-0.2L-0.65,-0.07L1,-0.018L1,0.018L-0.65,0.07L-0.58,0.2Z"},
 "encoding":{"x":{"field":"i","type":"quantitative"},"y":{"field":"p","type":"quantitative"}}},
{"data":{"values":[{"i":249.4,"p":0.99256,"t":"止损"},{"i":289.1,"p":0.98875,"t":"做空入场"},{"i":285,"p":0.97826,"t":"止盈"}]},
 "mark":{"type":"text","font":"Noto Sans CJK SC","fontSize":40,"color":"#ec2227","align":"center","baseline":"middle"},
 "encoding":{"x":{"field":"i","type":"quantitative"},"y":{"field":"p","type":"quantitative"},"text":{"field":"t"}}},
{"data":{"values":[{"a":327.1,"b":372.9,"p1":1.00047,"p2":0.98892}]},
 "mark":{"type":"rect","color":"#2b2b2b"},
 "encoding":{"x":{"field":"a","type":"quantitative"},"x2":{"field":"b"},"y":{"field":"p1","type":"quantitative"},"y2":{"field":"p2"}}},
{"data":{"values":[{"a":329.9,"b":370.1,"p":0.99939},{"a":329.9,"b":370.1,"p":0.99531},{"a":329.9,"b":370.1,"p":0.99352}]},
 "mark":{"type":"rule","color":"#7a7a7a","strokeWidth":1},
 "encoding":{"x":{"field":"a","type":"quantitative"},"x2":{"field":"b"},"y":{"field":"p","type":"quantitative"}}},
{"data":{"values":[{"i":347.75,"p":1.00027,"t":"WWW.FXBLIZZ.COM"}]},
 "mark":{"type":"text","font":"DejaVu Sans","fontWeight":"bold","fontSize":11,"color":"#e4e4e4","align":"center","baseline":"middle"},
 "encoding":{"x":{"field":"i","type":"quantitative"},"y":{"field":"p","type":"quantitative"},"text":{"field":"t"}}},
{"data":{"values":[{"i":350.6,"p":0.99976,"t":"MT4 TRADING"}]},
 "mark":{"type":"text","font":"DejaVu Sans","fontSize":8.5,"color":"#e4e4e4","align":"center","baseline":"middle"},
 "encoding":{"x":{"field":"i","type":"quantitative"},"y":{"field":"p","type":"quantitative"},"text":{"field":"t"}}},
{"data":{"values":[{"i":353.3,"p":0.99885,"t":"EURUSD"},{"i":370.6,"p":0.99885,"t":"M15"},{"i":353.3,"p":0.99619,"t":"00:02:01"}]},
 "mark":{"type":"text","font":"DejaVu Sans","fontSize":21,"color":"#f2f2f2","align":"right","baseline":"middle"},
 "encoding":{"x":{"field":"i","type":"quantitative"},"y":{"field":"p","type":"quantitative"},"text":{"field":"t"}}},
{"data":{"values":[{"i":353.3,"p":0.99753,"t":"0.97415"},{"i":370.6,"p":0.99753,"t":"1.8"}]},
 "mark":{"type":"text","font":"DejaVu Sans","fontSize":21,"color":"#8c8c8c","align":"right","baseline":"middle"},
 "encoding":{"x":{"field":"i","type":"quantitative"},"y":{"field":"p","type":"quantitative"},"text":{"field":"t"}}},
{"data":{"values":[{"i":353.3,"p":0.99829,"t":"SYMBOL"},{"i":370.6,"p":0.99829,"t":"TF"},{"i":353.3,"p":0.99696,"t":"BID PRICE"},{"i":370.6,"p":0.99696,"t":"SPREAD"},{"i":353.3,"p":0.99564,"t":"TIME REMAIN"},{"i":370.6,"p":0.99564,"t":"TICK"}]},
 "mark":{"type":"text","font":"DejaVu Sans","fontSize":7,"color":"#727272","align":"right","baseline":"middle"},
 "encoding":{"x":{"field":"i","type":"quantitative"},"y":{"field":"p","type":"quantitative"},"text":{"field":"t"}}},
{"data":{"values":[{"i":350.9,"p":0.99498,"t":"FZ BLIZZ TREND"}]},
 "mark":{"type":"text","font":"DejaVu Sans","fontSize":7,"color":"#727272","align":"center","baseline":"middle"},
 "encoding":{"x":{"field":"i","type":"quantitative"},"y":{"field":"p","type":"quantitative"},"text":{"field":"t"}}},
{"data":{"values":[{"i":368.75,"p":0.99627}]},
 "mark":{"type":"point","shape":"square","filled":true,"size":169,"opacity":1,"color":"#dcdcdc"},
 "encoding":{"x":{"field":"i","type":"quantitative"},"y":{"field":"p","type":"quantitative"}}},
{"data":{"values":[{"i":332.3,"p":0.99435,"tf":"M1"},{"i":338.1,"p":0.99435,"tf":"M5"},{"i":343.9,"p":0.99435,"tf":"M15"},{"i":349.6,"p":0.99435,"tf":"M30"},{"i":355.4,"p":0.99435,"tf":"H1"},{"i":361.1,"p":0.99435,"tf":"H4"},{"i":366.8,"p":0.99435,"tf":"D1"}]},
 "mark":{"type":"point","shape":"circle","filled":true,"size":200,"opacity":1},
 "encoding":{"x":{"field":"i","type":"quantitative"},"y":{"field":"p","type":"quantitative"},
  "color":{"field":"tf","type":"nominal","scale":{"domain":["M1","M5","M15","M30","H1","H4","D1"],"range":["#7878ff","#787878","#787878","#787878","#787878","#f05e78","#787878"]},"legend":null}}},
{"data":{"values":[{"i":332.3,"p":0.99385,"tf":"M1"},{"i":338.1,"p":0.99385,"tf":"M5"},{"i":343.9,"p":0.99385,"tf":"M15"},{"i":349.6,"p":0.99385,"tf":"M30"},{"i":355.4,"p":0.99385,"tf":"H1"},{"i":361.1,"p":0.99385,"tf":"H4"},{"i":366.8,"p":0.99385,"tf":"D1"}]},
 "mark":{"type":"text","font":"DejaVu Sans","fontSize":7,"color":"#727272","align":"center","baseline":"middle"},
 "encoding":{"x":{"field":"i","type":"quantitative"},"y":{"field":"p","type":"quantitative"},"text":{"field":"tf"}}},
{"data":{"values":[
  {"i":354.7,"p":0.99309,"t":"100 Days ATR:"},{"i":354.7,"p":0.99263,"t":"Today Hi-Lo:"},{"i":354.7,"p":0.99216,"t":"ATR/Spread Ratio:"},{"i":354.7,"p":0.99170,"t":"Current Bar Hi-Lo:"},{"i":354.7,"p":0.99124,"t":"Prev Bar Hi-Lo:"},{"i":354.7,"p":0.99077,"t":"Tickvalue:"},{"i":354.7,"p":0.99031,"t":"Stoplevel:"},{"i":354.7,"p":0.98985,"t":"Swap Long:"},{"i":354.7,"p":0.98938,"t":"Swap Short:"},
  {"i":370.8,"p":0.99309,"t":"110.2"},{"i":370.8,"p":0.99263,"t":"90.8"},{"i":370.8,"p":0.99216,"t":"61.21X"},{"i":370.8,"p":0.99170,"t":"8.1"},{"i":370.8,"p":0.99124,"t":"3.8"},{"i":370.8,"p":0.99077,"t":"10.000"},{"i":370.8,"p":0.99031,"t":"1.000"},{"i":370.8,"p":0.98985,"t":"-9.10000"},{"i":370.8,"p":0.98938,"t":"2.70000"}]},
 "mark":{"type":"text","font":"DejaVu Sans","fontSize":11.5,"color":"#e6e6e6","align":"right","baseline":"middle"},
 "encoding":{"x":{"field":"i","type":"quantitative"},"y":{"field":"p","type":"quantitative"},"text":{"field":"t"}}},
{"data":{"values":[{"a":374.1,"b":384.6,"p1":0.97435,"p2":0.97396}]},
 "mark":{"type":"rect","color":"#ffffff"},
 "encoding":{"x":{"field":"a","type":"quantitative"},"x2":{"field":"b"},"y":{"field":"p1","type":"quantitative"},"y2":{"field":"p2"}}},
{"data":{"values":[{"i":379.4,"p":0.97415,"t":"0.97415"}]},
 "mark":{"type":"text","font":"DejaVu Sans","fontSize":7.7,"color":"#000000","align":"center","baseline":"middle"},
 "encoding":{"x":{"field":"i","type":"quantitative"},"y":{"field":"p","type":"quantitative"},"text":{"field":"t"}}},
{"data":{"values":[{"i":0.875,"p":1.00108,"t":"EURUSD,M15"}]},
 "mark":{"type":"text","font":"DejaVu Sans","fontSize":8,"color":"#ffffff","align":"left","baseline":"middle"},
 "encoding":{"x":{"field":"i","type":"quantitative"},"y":{"field":"p","type":"quantitative"},"text":{"field":"t"}}}
]
}
